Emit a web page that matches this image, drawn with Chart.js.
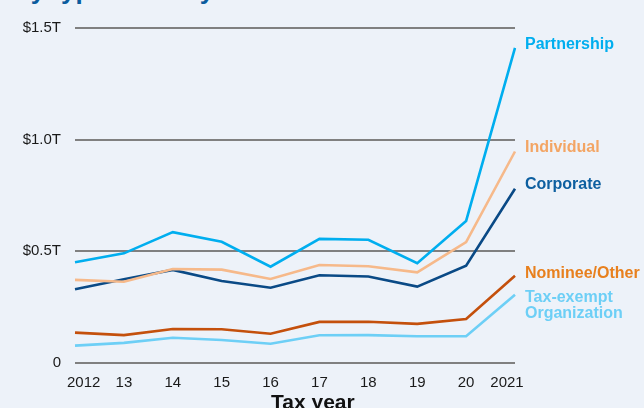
<!DOCTYPE html>
<html>
<head>
<meta charset="utf-8">
<script src="https://cdn.jsdelivr.net/npm/chart.js@4.4.1/dist/chart.umd.min.js"></script>
<style>
  html, body { margin: 0; padding: 0; background: #edf2f9; }
  #wrap { position: relative; width: 644px; height: 408px; overflow: hidden; background: #edf2f9; }
  #chart { position: absolute; left: 0; top: 0; }
  .title { position: absolute; left: 12px; top: -23px; font: bold 26px "Liberation Sans", Arial, sans-serif; line-height: 26px; color: #0b5c9e; white-space: nowrap; }
  .xtitle { position: absolute; left: 271px; top: 391px; font: bold 21px "Liberation Sans", Arial, sans-serif; line-height: 21px; color: #111; white-space: nowrap; }
</style>
</head>
<body>
<div id="wrap">
  <div class="title">By type of entity</div>
  <canvas id="chart" width="644" height="408"></canvas>
  <div class="xtitle">Tax year</div>
</div>
<script>
// ---- data ----
const years = ['2012', '13', '14', '15', '16', '17', '18', '19', '20', '2021'];
const partnership  = [0.451, 0.491, 0.586, 0.543, 0.431, 0.556, 0.552, 0.447, 0.636, 1.411];
const individual   = [0.372, 0.364, 0.421, 0.418, 0.376, 0.439, 0.433, 0.406, 0.541, 0.947];
const corporate    = [0.330, 0.375, 0.417, 0.367, 0.337, 0.393, 0.387, 0.342, 0.436, 0.780];
const nomineeOther = [0.136, 0.125, 0.152, 0.151, 0.131, 0.184, 0.185, 0.175, 0.197, 0.391];
const taxExempt    = [0.078, 0.090, 0.113, 0.103, 0.086, 0.124, 0.125, 0.120, 0.120, 0.306];
const seriesNames  = ['Partnership', 'Individual', 'Corporate', 'Nominee/Other', 'Tax-exempt\nOrganization'];
const yTickValues  = [0, 0.5, 1.0, 1.5];
const yTickLabels  = ['0', '$0.5T', '$1.0T', '$1.5T'];

// ---- styles ----
const lineColors  = ['#00aeef', '#f6b98a', '#0a4a86', '#c4500c', '#6dcff6'];
const labelColors = ['#00aeef', '#f3a564', '#0d5fa0', '#e8801e', '#6dcff6'];
const labelNudge  = [1, 0, 0, 2.5, 7];
const FONT = '"Liberation Sans", Arial, sans-serif';

const seriesData = [partnership, individual, corporate, nomineeOther, taxExempt];

const endLabels = {
  id: 'endLabels',
  afterDatasetsDraw(chart) {
    const ctx = chart.ctx;
    ctx.save();
    ctx.font = 'bold 16px ' + FONT;
    ctx.textAlign = 'left';
    ctx.textBaseline = 'alphabetic';
    chart.data.datasets.forEach((ds, i) => {
      const meta = chart.getDatasetMeta(i);
      const last = meta.data[meta.data.length - 1];
      const lines = seriesNames[i].split('\n');
      ctx.fillStyle = labelColors[i];
      lines.forEach((t, k) => {
        ctx.fillText(t, chart.chartArea.right + 10, last.y + labelNudge[i] + k * 16.6);
      });
    });
    ctx.restore();
  }
};

const edgeTicks = {
  id: 'edgeTicks',
  beforeDraw(chart) {
    const s = chart.scales.x;
    if (!s || !s.getLabelItems) return;
    const items = s.getLabelItems(chart.chartArea);
    if (items && items.length) {
      items[0].options.translation[0] += 8.7;
      items[items.length - 1].options.translation[0] -= 8;
    }
  }
};

new Chart(document.getElementById('chart'), {
  type: 'line',
  data: {
    labels: years,
    datasets: seriesData.map((d, i) => ({
      label: seriesNames[i],
      data: d,
      borderColor: lineColors[i],
      backgroundColor: lineColors[i],
      borderWidth: 2.6,
      pointRadius: 0,
      tension: 0,
      fill: false
    }))
  },
  options: {
    responsive: false,
    animation: false,
    devicePixelRatio: 1,
    layout: { padding: { left: 0, right: 129, top: 28, bottom: 0 } },
    plugins: { legend: { display: false }, tooltip: { enabled: false }, title: { display: false } },
    scales: {
      x: {
        type: 'category',
        offset: false,
        grid: { display: false },
        border: { display: false },
        ticks: {
          autoSkip: false, maxRotation: 0, minRotation: 0,
          font: { family: FONT, size: 15 }, color: '#1a1a1a', padding: 3
        },
        afterFit(scale) { scale.height = 45; }
      },
      y: {
        min: 0, max: 1.5,
        afterBuildTicks(scale) { scale.ticks = yTickValues.map(v => ({ value: v })); },
        grid: { color: '#808080', lineWidth: 2, drawTicks: false },
        border: { display: false },
        ticks: {
          font: { family: FONT, size: 15 }, color: '#1a1a1a', padding: 14,
          callback(v) { const i = yTickValues.indexOf(v); return i >= 0 ? yTickLabels[i] : ''; }
        },
        afterFit(scale) { scale.width = 75; }
      }
    }
  },
  plugins: [endLabels, edgeTicks]
});
</script>
</body>
</html>
